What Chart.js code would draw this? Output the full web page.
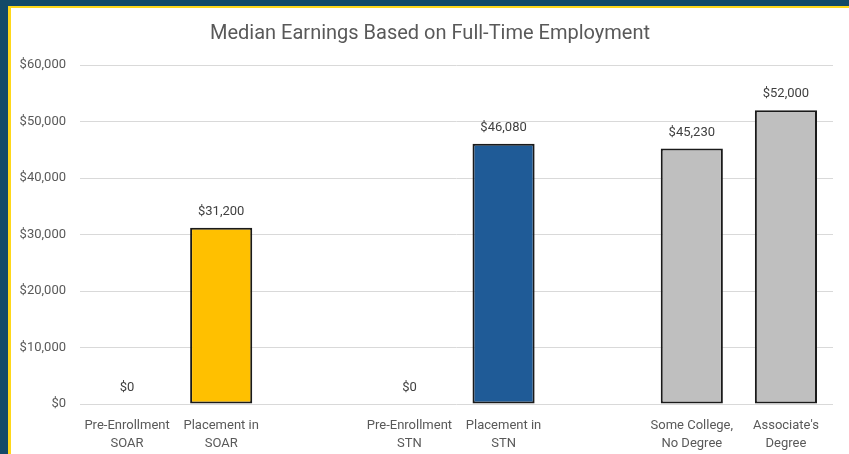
<!DOCTYPE html>
<html>
<head>
<meta charset="utf-8">
<script src="https://cdn.jsdelivr.net/npm/chart.js@4.4.1/dist/chart.umd.min.js"></script>
<style>
  html, body { margin: 0; padding: 0; }
  body { width: 849px; height: 454px; background: #134a68; overflow: hidden; position: relative; }
  #frame { position: absolute; left: 8px; top: 6px; width: 860px; height: 460px;
           border-left: 3px solid #ffd81a; border-top: 2px solid #ffd81a; background: #ffffff; }
  #wrap { position: absolute; left: 11px; top: 8px; width: 838px; height: 446px; }
</style>
</head>
<body>
<div id="frame"></div>
<div id="wrap"><canvas id="c"></canvas></div>
<script>
const categories = [
  ["Pre-Enrollment", "SOAR"],
  ["Placement in", "SOAR"],
  "",
  ["Pre-Enrollment", "STN"],
  ["Placement in", "STN"],
  "",
  ["Some College,", "No Degree"],
  ["Associate's", "Degree"]
];
const earnings = [0, 31200, null, 0, 46080, null, 45230, 52000];
const barColors = ["#ffc000", "#ffc000", "#ffffff", "#1f5b97", "#1f5b97", "#ffffff", "#bfbfbf", "#bfbfbf"];
const yTicks = [0, 10000, 20000, 30000, 40000, 50000, 60000];
const titleText = "Median Earnings Based on Full-Time Employment";

const fmt = v => "$" + v.toLocaleString("en-US");

const valueLabels = {
  id: "valueLabels",
  afterDatasetsDraw(chart) {
    const ctx = chart.ctx;
    const meta = chart.getDatasetMeta(0);
    ctx.save();
    ctx.font = "13px Roboto";
    ctx.fillStyle = "#404040";
    ctx.textAlign = "center";
    ctx.textBaseline = "middle";
    meta.data.forEach((bar, i) => {
      const v = earnings[i];
      if (v === null || v === undefined) return;
      ctx.fillText(fmt(v), bar.x, bar.y - 16);
    });
    ctx.restore();
  }
};

// center the title on the whole canvas rather than between the padded edges
const centerTitle = {
  id: "centerTitle",
  afterLayout(chart) {
    const t = chart.titleBlock;
    if (!t) return;
    const w = t.right - t.left;
    t.left = (chart.width - w) / 2;
    t.right = t.left + w;
  }
};

new Chart(document.getElementById("c"), {
  type: "bar",
  data: {
    labels: categories,
    datasets: [{
      data: earnings,
      backgroundColor: barColors,
      borderColor: "#1a1a1a",
      borderWidth: ctx => (ctx.raw ? 2 : 0),
      borderSkipped: false,
      categoryPercentage: 1.0,
      barPercentage: 0.66
    }]
  },
  options: {
    responsive: true,
    maintainAspectRatio: false,
    animation: false,
    layout: { padding: { left: 0, right: 16, top: 0, bottom: 0 } },
    plugins: {
      legend: { display: false },
      tooltip: { enabled: false },
      title: {
        display: true,
        text: titleText,
        color: "#595959",
        font: { family: "Roboto", size: 20, weight: "normal" },
        padding: { top: 14, bottom: 19 }
      }
    },
    scales: {
      x: {
        grid: { display: false },
        border: { display: false },
        ticks: {
          color: "#595959",
          font: { family: "Roboto", size: 13, lineHeight: 1.38 },
          maxRotation: 0,
          autoSkip: false,
          padding: 5
        },
        afterFit(s) { s.height = 50; }
      },
      y: {
        min: 0,
        max: 60000,
        afterBuildTicks(s) { s.ticks = yTicks.map(v => ({ value: v })); },
        grid: { color: "#d9d9d9", lineWidth: 1, drawTicks: false },
        border: { display: false },
        ticks: {
          color: "#595959",
          font: { family: "Roboto", size: 13 },
          padding: 14,
          callback: v => fmt(v)
        },
        afterFit(s) { s.width = 69; }
      }
    }
  },
  plugins: [valueLabels, centerTitle]
});
</script>
</body>
</html>
